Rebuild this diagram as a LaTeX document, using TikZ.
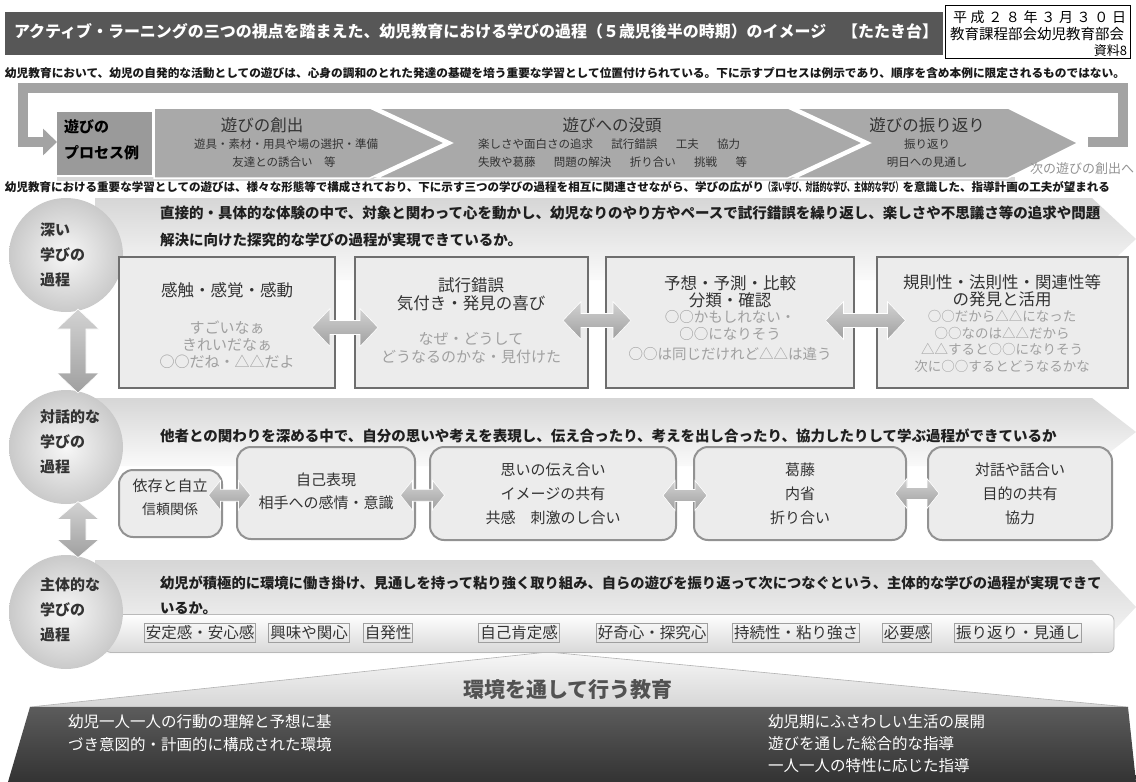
\documentclass[tikz,border=0pt]{standalone}
\usepackage{fontspec}
\usepackage{graphicx}
\setmainfont{Noto Sans CJK JP}
\usetikzlibrary{calc,arrows.meta}
\definecolor{titlebg}{HTML}{575757}
\definecolor{chev}{HTML}{A9A9A9}
\definecolor{loopc}{HTML}{A3A3A3}
\definecolor{pboxc}{HTML}{9A9A9A}
\definecolor{txt}{HTML}{333333}
\definecolor{lt}{HTML}{A0A0A0}
\definecolor{boxfill}{HTML}{ECECEC}
\definecolor{boxline}{HTML}{6E6E6E}
\definecolor{rbline}{HTML}{929292}
\newcommand\fs[1]{\fontsize{#1}{#1}\selectfont}
\newcommand\dblarr[7]{% name, coord, rotation, halflen, headhalf, shafthalf, headlen
  \coordinate (#1) at #2;
  \begin{scope}[shift={(#1)}, rotate=#3]
    \path[arrsh] (-#4,0) -- ({-#4+#7},-#5) -- ({-#4+#7},-#6) -- ({#4-#7},-#6) -- ({#4-#7},-#5) -- (#4,0)
      -- ({#4-#7},#5) -- ({#4-#7},#6) -- ({-#4+#7},#6) -- ({-#4+#7},#5) -- cycle;
  \end{scope}}
\tikzset{
  every node/.style={inner sep=0pt, outer sep=0pt},
  circlbl/.style={font=\fs{15}\bfseries, text=txt, anchor=west},
  bandtxt/.style={font=\fs{14.5}\bfseries, text=black!88, anchor=west},
  ttl/.style={font=\fs{16.5}, text=txt},
  sub/.style={font=\fs{15}, text=lt},
  chevtxt/.style={font=\fs{16.5}, text=txt},
  chevsub/.style={font=\fs{11.5}, text=txt},
  chevsty/.style={fill=chev, draw=white, line width=1.5pt},
  deepbox/.style={draw=boxline, line width=2.2pt, fill=boxfill},
  dlgbox/.style={draw=rbline, line width=2pt, fill=boxfill, rounded corners=14pt},
  dlgtxt/.style={font=\fs{15}, text=txt},
  wordbox/.style={draw=gray!75, line width=0.8pt, font=\fs{15.5}, text=txt, inner xsep=1.5pt, inner ysep=2pt},
  arrsh/.style={top color=gray!35, bottom color=gray!75, draw=white, line width=0.6pt},
  band/.style={top color=gray!32, bottom color=gray!4},
  sphere/.style={circle, minimum size=114pt, inner color=gray!6, outer color=gray!42},
  loopbar/.style={draw=loopc, line width=10pt},
  whitetxt/.style={font=\fs{15.5}, text=white, anchor=west}
}
\begin{document}
\begin{tikzpicture}[x=1pt,y=-1pt]
\useasboundingbox (0,0) rectangle (1136,782);
\fill[white] (0,0) rectangle (1136,782);

% ---------- header ----------
\node[fill=titlebg, minimum width=938pt, minimum height=43pt, anchor=north west] (tbar) at (5,12) {};
\node[anchor=west, text=white, font=\fs{16}\bfseries] (title) at (14,31)
  {\resizebox{924pt}{\height}{アクティブ・ラーニングの三つの視点を踏まえた、幼児教育における学びの過程（５歳児後半の時期）のイメージ　【たたき台】}};
\node[draw=black, line width=0.8pt, fill=white, minimum width=185pt, minimum height=53pt, anchor=north west] (date) at (945,5) {};
\node[anchor=west, font=\fs{14}] (dl1) at (953,17) {\hbox to 173pt{平\hfil 成\hfil ２\hfil ８\hfil 年\hfil ３\hfil 月\hfil ３\hfil ０\hfil 日}};
\node[anchor=west, font=\fs{14.5}] (dl2) at (950,34) {教育課程部会幼児教育部会};
\node[anchor=east, font=\fs{13}] (dl3) at (1127,51) {資料8};
\node[anchor=west, font=\fs{11.5}\bfseries, text=black!90] (intro) at (5,73)
  {\resizebox{1120pt}{\height}{幼児教育において、幼児の自発的な活動としての遊びは、心身の調和のとれた発達の基礎を培う重要な学習として位置付けられている。下に示すプロセスは例示であり、順序を含め本例に限定されるものではない。}};

% ---------- process loop ----------
\fill[gray!30] (57,177) rectangle (1015,181);
\node[fill=pboxc, minimum width=95pt, minimum height=63pt] (pbox) at (104.5,143.5) {};
\coordinate (lpA) at (1088,142);
\coordinate (lpB) at (1123,142);
\coordinate (lpC) at (1123,88);
\coordinate (lpD) at (23,88);
\coordinate (lpE) at (23,142);
\draw[loopbar, line join=miter, -{Triangle[width=26pt,length=14pt]}] (lpA) -- (lpB) -- (lpC) -- (lpD) -- (lpE) -- (pbox.west |- lpE);
\path[chevsty] (154,108) -- (370,108) -- (445,143) -- (370,178) -- (154,178) -- cycle;
\path[chevsty] (377,108) -- (788,108) -- (863,143) -- (788,178) -- (377,178) -- (452,143) -- cycle;
\path[chevsty] (795,108) -- (1008,108) -- (1078,143) -- (1008,178) -- (795,178) -- (870,143) -- cycle;
\node[circlbl, text=black] (pb1) at (64,127) {遊びの};
\node[circlbl, text=black] (pb2) at (64,153) {プロセス例};
\node[chevtxt] (c1t) at (262,125) {遊びの創出};
\node[chevsub] (c1a) at (286,144) {遊具・素材・用具や場の選択・準備};
\node[chevsub] (c1b) at (284,162) {友達との誘合い　等};
\node[chevtxt] (c2t) at (612,125) {遊びへの没頭};
\node[chevsub, anchor=west] (c2a) at (478,144) {楽しさや面白さの追求\hspace{1.6em}試行錯誤\hspace{1.6em}工夫\hspace{1.6em}協力};
\node[chevsub, anchor=west] (c2b) at (478,162) {失敗や葛藤\hspace{1.6em}問題の解決\hspace{1.6em}折り合い\hspace{1.6em}挑戦\hspace{1.6em}等};
\node[chevtxt] (c3t) at (927,125) {遊びの振り返り};
\node[chevsub] (c3a) at (927,144) {振り返り};
\node[chevsub] (c3b) at (927,162) {明日への見通し};
\node[anchor=east, font=\fs{13}, text=gray!85] (next) at (1134,169) {次の遊びの創出へ};
\node[anchor=west, font=\fs{11.5}\bfseries, text=black!90] (intro2) at (5,187)
  {\resizebox{1105pt}{\height}{幼児教育における重要な学習としての遊びは、様々な形態等で構成されており、下に示す三つの学びの過程を相互に関連させながら、学びの広がり\scalebox{0.6}[1]{（深い学び、対話的な学び、主体的な学び）}を意識した、指導計画の工夫が望まれる}};

% ---------- bands ----------
\path[band] (95,198) -- (1092,198) -- (1136,239) -- (1092,280) -- (95,280) -- cycle;
\path[band] (95,398) -- (1092,398) -- (1136,432) -- (1092,466) -- (95,466) -- cycle;
\path[band] (95,560) -- (1092,560) -- (1136,607) -- (1092,654) -- (95,654) -- cycle;

% ---------- bottom ----------
\path[top color=gray!6, bottom color=gray!32, draw=gray!60, line width=0.6pt] (548,652) -- (1128,707) -- (30,707) -- cycle;
\path[top color=black!64, bottom color=black!80] (30,707) -- (1128,707) -- (1136,782) -- (8,782) -- cycle;
\node[font=\fs{21}\bfseries, text=black!68] (env) at (568,690) {環境を通して行う教育};
\node[whitetxt] (bl1) at (68,722) {幼児一人一人の行動の理解と予想に基};
\node[whitetxt] (bl2) at (68,745) {づき意図的・計画的に構成された環境};
\node[whitetxt] (br1) at (768,722) {幼児期にふさわしい生活の展開};
\node[whitetxt] (br2) at (768,744) {遊びを通した総合的な指導};
\node[whitetxt] (br3) at (768,766) {一人一人の特性に応じた指導};

% ---------- subject strip ----------
\node[top color=white, bottom color=gray!30, draw=gray!55, line width=0.8pt, rounded corners=6pt,
      minimum width=1009pt, minimum height=38pt] (strip) at (609.5,633.5) {};

% ---------- circles ----------
\node[sphere] (cdeep) at (66,255) {};
\node[sphere] (cdlg) at (66,447) {};
\node[sphere] (csub) at (66,612) {};
\node[circlbl] (cd1) at (40,230) {深い};
\node[circlbl] (cd2) at (40,255) {学びの};
\node[circlbl] (cd3) at (40,280) {過程};
\node[circlbl] (cg1) at (40,417) {対話的な};
\node[circlbl] (cg2) at (40,442) {学びの};
\node[circlbl] (cg3) at (40,467) {過程};
\node[circlbl] (cs1) at (40,585) {主体的な};
\node[circlbl] (cs2) at (40,610) {学びの};
\node[circlbl] (cs3) at (40,635) {過程};

% ---------- deep ----------
\node[bandtxt] (dt1) at (160,213) {直接的・具体的な体験の中で、対象と関わって心を動かし、幼児なりのやり方やペースで試行錯誤を繰り返し、楽しさや不思議さ等の追求や問題};
\node[bandtxt] (dt2) at (160,240) {解決に向けた探究的な学びの過程が実現できているか。};
\node[deepbox, minimum width=216pt, minimum height=131pt] (d1) at (227,322.5) {};
\node[deepbox, minimum width=233pt, minimum height=131pt] (d2) at (471.5,322.5) {};
\node[deepbox, minimum width=248pt, minimum height=131pt] (d3) at (730,322.5) {};
\node[deepbox, minimum width=251pt, minimum height=131pt] (d4) at (1002.5,322.5) {};
\node[ttl] at (227,290) {感触・感覚・感動};
\node[sub] at (227,328) {すごいなぁ};
\node[sub] at (227,345) {きれいだなぁ};
\node[sub] at (227,362) {○○だね・△△だよ};
\node[ttl] at (471,285) {試行錯誤};
\node[ttl] at (471,303) {気付き・発見の喜び};
\node[sub] at (471,339) {なぜ・どうして};
\node[sub] at (471,357) {どうなるのかな・見付けた};
\node[ttl] at (730,283) {予想・予測・比較};
\node[ttl] at (730,300) {分類・確認};
\node[sub, font=\fs{14.5}] at (730,317) {○○かもしれない・};
\node[sub, font=\fs{14.5}] at (730,334) {○○になりそう};
\node[sub, font=\fs{14.5}] at (730,354) {○○は同じだけれど△△は違う};
\node[ttl] at (1002,282) {規則性・法則性・関連性等};
\node[ttl] at (1002,299) {の発見と活用};
\node[sub, font=\fs{13.5}] at (1002,316) {○○だから△△になった};
\node[sub, font=\fs{13.5}] at (1002,333) {○○なのは△△だから};
\node[sub, font=\fs{13.5}] at (1002,349) {△△すると○○になりそう};
\node[sub, font=\fs{13.5}] at (1002,366) {次に○○するとどうなるかな};
\dblarr{a12}{($(d1.east)!.5!(d2.west)+(0,5)$)}{0}{33}{19}{7}{18}
\dblarr{a23}{($(d2.east)!.5!(d3.west)+(0,-2)$)}{0}{34}{19}{7}{18}
\dblarr{a34}{($(d3.east)!.5!(d4.west)+(0,-2)$)}{0}{40}{19}{7}{18}

% ---------- dialog ----------
\node[bandtxt] (gt1) at (160,436) {他者との関わりを深める中で、自分の思いや考えを表現し、伝え合ったり、考えを出し合ったり、協力したりして学ぶ過程ができているか};
\node[dlgbox, minimum width=103pt, minimum height=67pt] (b1) at (170.5,503.5) {};
\node[dlgbox, minimum width=178pt, minimum height=92pt] (b2) at (326,493) {};
\node[dlgbox, minimum width=246pt, minimum height=93pt] (b3) at (553,493.5) {};
\node[dlgbox, minimum width=212pt, minimum height=93pt] (b4) at (800,493.5) {};
\node[dlgbox, minimum width=184pt, minimum height=93pt] (b5) at (1020,493.5) {};
\node[dlgtxt] at (170,486) {依存と自立};
\node[dlgtxt, font=\fs{14}] at (170,509) {信頼関係};
\node[dlgtxt] at (326,480) {自己表現};
\node[dlgtxt] at (326,503) {相手への感情・意識};
\node[dlgtxt] at (553,470) {思いの伝え合い};
\node[dlgtxt] at (553,494) {イメージの共有};
\node[dlgtxt] at (553,518) {共感　刺激のし合い};
\node[dlgtxt] at (800,470) {葛藤};
\node[dlgtxt] at (800,494) {内省};
\node[dlgtxt] at (800,518) {折り合い};
\node[dlgtxt] at (1020,470) {対話や話合い};
\node[dlgtxt] at (1020,494) {目的の共有};
\node[dlgtxt] at (1020,518) {協力};
\dblarr{e12}{($(b1.east)!.5!(b2.west)+(0,-3)$)}{0}{21}{15}{6}{12}
\dblarr{e23}{($(b2.east)!.5!(b3.west)+(0,2)$)}{0}{22}{15}{6}{12}
\dblarr{e34}{($(b3.east)!.5!(b4.west)+(0,2)$)}{0}{22}{15}{6}{12}
\dblarr{e45}{($(b4.east)!.5!(b5.west)+(0,0)$)}{0}{22}{15}{6}{12}

% ---------- vertical arrows ----------
\dblarr{v1}{($(cdeep.south)!.5!(cdlg.north)+(12,0)$)}{90}{42}{21}{8}{20}
\dblarr{v2}{($(cdlg.south)!.5!(csub.north)+(12,0)$)}{90}{28}{21}{8}{18}

% ---------- subject ----------
\node[bandtxt, font=\fs{14.3}\bfseries] (st1) at (160,583) {幼児が積極的に環境に働き掛け、見通しを持って粘り強く取り組み、自らの遊びを振り返って次につなぐという、主体的な学びの過程が実現できて};
\node[bandtxt, font=\fs{14.3}\bfseries] (st2) at (160,608) {いるか。};
\node[wordbox] (w1) at (200,633) {安定感・安心感};
\node[wordbox] (w2) at (309,633) {興味や関心};
\node[wordbox] (w3) at (388,633) {自発性};
\node[wordbox] (w4) at (519,633) {自己肯定感};
\node[wordbox] (w5) at (652,633) {好奇心・探究心};
\node[wordbox] (w6) at (796,633) {持続性・粘り強さ};
\node[wordbox] (w7) at (907,633) {必要感};
\node[wordbox] (w8) at (1018,633) {振り返り・見通し};
\end{tikzpicture}
\end{document}
